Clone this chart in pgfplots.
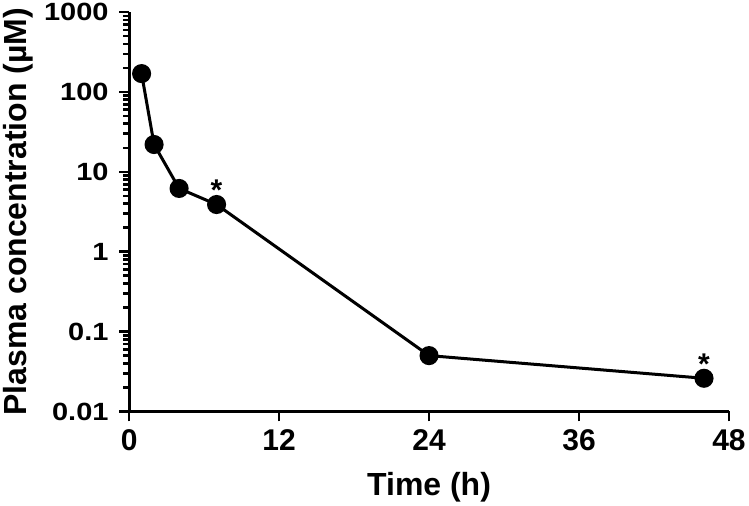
\documentclass[border=0pt]{standalone}
\usepackage{fontspec}
\setmainfont{Liberation Sans}
\usepackage{graphicx}
\usepackage{pgfplots}
\pgfplotsset{compat=1.18}
\newcommand{\yl}[1]{\scalebox{1}[0.86]{#1}}
\begin{document}
\begin{tikzpicture}
\begin{axis}[
  scale only axis,
  width=598bp, height=398bp,
  xmin=0, xmax=48,
  ymin=0.01, ymax=1000,
  ymode=log,
  axis x line=bottom, axis y line=left,
  axis line style={line width=3bp, -},
  every tick/.style={line width=2.6bp, black},
  tick align=outside,
  major tick length=10bp,
  minor tick length=6bp,
  xtick={0,12,24,36,48},
  ytick={0.01,0.1,1,10,100,1000},
  yticklabels={\yl{0.01},\yl{0.1},\yl{1},\yl{10},\yl{100},\yl{1000}},
  /pgf/number format/assume math mode=true,
  xticklabel style={font=\fontsize{30}{34}\selectfont\bfseries, yshift=-5bp},
  yticklabel style={font=\fontsize{29}{33}\selectfont\bfseries, xshift=-7bp},
  label style={font=\fontsize{32}{36}\selectfont\bfseries},
  xlabel={Time (h)},
  ylabel={Plasma concentration (µM)},
  xlabel style={yshift=-14bp},
  ylabel style={yshift=4bp},
  clip=false,
]
\addplot[black, line width=3bp, mark=*, mark size=8bp, mark options={solid}]
coordinates {(1,170) (2,22) (4,6.2) (7,3.9) (24,0.05) (46,0.026)};
\addplot[draw=none, mark=none, nodes near coords={*},
  every node near coord/.style={font=\fontsize{30}{32}\selectfont\bfseries, anchor=south, yshift=0bp}]
coordinates {(7,3.9) (46,0.026)};
\end{axis}
\end{tikzpicture}
\end{document}
